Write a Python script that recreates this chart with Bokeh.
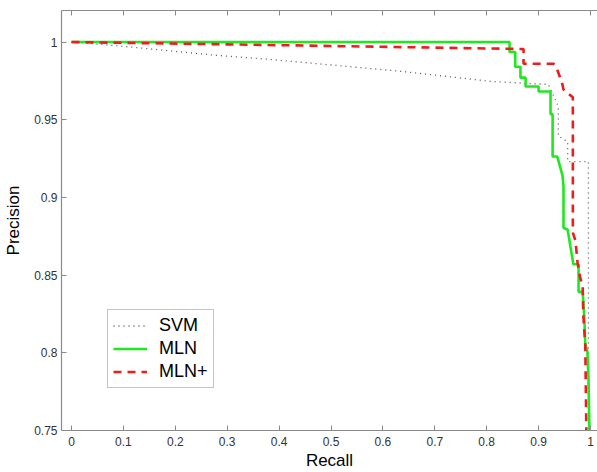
from bokeh.plotting import figure
from bokeh.models import LinearAxis, FixedTicker, Legend, LegendItem, Range1d
from bokeh.embed import file_html
from bokeh.resources import INLINE

# ---- data ----
svm_recall = [0.0, 0.075, 0.17, 0.27, 0.39, 0.64, 0.81, 0.919, 0.923, 0.938, 0.938, 0.956, 0.956, 0.996, 0.996]
svm_precision = [1.0, 0.998, 0.995, 0.9917, 0.9886, 0.981, 0.9746, 0.9727, 0.9695, 0.9587, 0.9396, 0.9358, 0.9231, 0.9231, 0.75]

mln_recall = [0.0, 0.844, 0.844, 0.855, 0.855, 0.865, 0.865, 0.875, 0.875, 0.900, 0.900, 0.923, 0.923,
              0.927, 0.927, 0.936, 0.946, 0.948, 0.948, 0.956, 0.967, 0.977, 0.977, 0.985, 0.988,
              0.990, 0.994, 0.996, 0.998]
mln_precision = [1.0, 1.0, 0.9936, 0.9936, 0.9841, 0.9841, 0.9771, 0.9771, 0.9714, 0.9714, 0.9682, 0.9682,
                 0.9536, 0.9536, 0.9263, 0.9263, 0.9142, 0.9072, 0.8805, 0.8792, 0.857, 0.857, 0.8392,
                 0.8392, 0.8233, 0.8055, 0.801, 0.7851, 0.75]

mlnp_recall = [0.0, 0.4, 0.871, 0.871, 0.929, 0.934, 0.945, 0.948, 0.966, 0.966, 0.971, 0.975, 0.979,
               0.985, 0.986, 0.990, 0.992]
mlnp_precision = [1.0, 0.998, 0.9955, 0.986, 0.986, 0.984, 0.9739, 0.9695, 0.9644, 0.8773, 0.8722,
                  0.8582, 0.85, 0.8423, 0.8252, 0.8042, 0.75]

x_ticks = [0, 0.1, 0.2, 0.3, 0.4, 0.5, 0.6, 0.7, 0.8, 0.9, 1]
x_labels = ["0", "0.1", "0.2", "0.3", "0.4", "0.5", "0.6", "0.7", "0.8", "0.9", "1"]
y_ticks = [0.75, 0.8, 0.85, 0.9, 0.95, 1]
y_labels = ["0.75", "0.8", "0.85", "0.9", "0.95", "1"]

series_names = ["SVM", "MLN", "MLN+"]

FONT = "Liberation Sans"
AXIS_GRAY = "#8a8a8a"

p = figure(width=597, height=472, output_backend="svg", toolbar_location=None,
           x_range=Range1d(-0.0193, 1.0135), y_range=Range1d(0.75, 1.0203),
           min_border_left=61, min_border_right=0, min_border_top=10, min_border_bottom=37,
           x_axis_label="Recall", y_axis_label="Precision")
p.grid.visible = False
p.outline_line_color = None
p.background_fill_color = "white"
p.border_fill_color = "white"

def style_axis(ax, ticks, labels, show_labels=True):
    ax.ticker = FixedTicker(ticks=ticks)
    ax.axis_line_color = AXIS_GRAY
    ax.axis_line_width = 1.2
    ax.major_tick_line_color = AXIS_GRAY
    ax.major_tick_in = 5
    ax.major_tick_out = 0
    ax.minor_tick_line_color = None
    ax.major_label_text_font = FONT
    if show_labels:
        ax.major_label_overrides = dict(zip(ticks, labels))
        ax.major_label_text_color = "#333333"
        ax.major_label_text_font_size = "12px"
    else:
        ax.major_label_text_color = None
        ax.major_label_text_font_size = "1px"
        ax.major_label_standoff = 0

xa = p.xaxis[0]
style_axis(xa, x_ticks, x_labels)
xa.major_label_standoff = 6
xa.axis_label_standoff = 2
xa.axis_label_text_font = FONT
xa.axis_label_text_font_size = "17px"
xa.axis_label_text_font_style = "normal"
xa.axis_label_text_color = "black"

ya = p.yaxis[0]
style_axis(ya, y_ticks, y_labels)
ya.major_label_standoff = 4
ya.axis_label_standoff = 8
ya.axis_label_text_font = FONT
ya.axis_label_text_font_size = "17px"
ya.axis_label_text_font_style = "normal"
ya.axis_label_text_color = "black"

top = LinearAxis()
style_axis(top, x_ticks, x_labels, show_labels=False)
p.add_layout(top, "above")

r_svm = p.line(svm_recall, svm_precision, line_color="#555555", line_width=1.3, line_dash="1 4")
r_mln = p.line(mln_recall, mln_precision, line_color="#1ee81e", line_width=2.6)
r_mlnp = p.line(mlnp_recall, mlnp_precision, line_color="#ee1c1c", line_width=2.6, line_dash="8 6")

legend = Legend(items=[LegendItem(label=series_names[0], renderers=[r_svm]),
                       LegendItem(label=series_names[1], renderers=[r_mln]),
                       LegendItem(label=series_names[2], renderers=[r_mlnp])],
                location=(46, 42))
legend.label_text_font = FONT
legend.label_text_font_size = "18px"
legend.label_text_color = "black"
legend.border_line_color = AXIS_GRAY
legend.border_line_width = 1.2
legend.background_fill_color = "white"
legend.background_fill_alpha = 1.0
legend.padding = 5
legend.spacing = 2
legend.glyph_height = 19
legend.glyph_width = 34
legend.label_standoff = 12
legend.label_height = 19
legend.margin = 0
p.add_layout(legend, "center")

open("out.html", "w").write(file_html(p, INLINE))
